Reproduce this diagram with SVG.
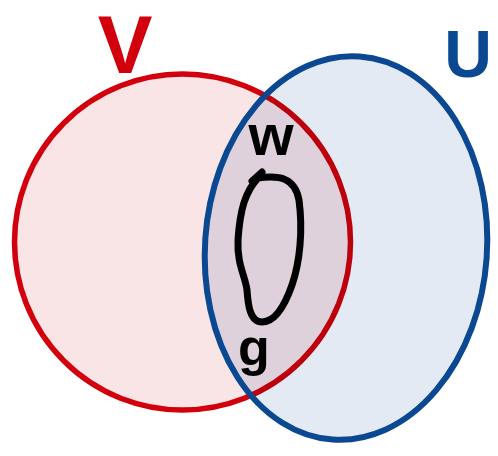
<svg xmlns="http://www.w3.org/2000/svg" width="498" height="456" viewBox="0 0 498 456">
<style>
.hand{font-family:"Liberation Sans","DejaVu Sans",sans-serif;font-weight:bold}
.red{fill:#d2000c}
.blue{fill:#0a4892}
.ink{fill:#000}
</style>
<rect width="498" height="456" fill="#fff"/>
<g id="setV">
<circle cx="182.5" cy="242" r="168" fill="#f9e4e6" stroke="#d2000c" stroke-width="5.5"/>
<text class="hand red" x="125" y="73" font-size="82" text-anchor="middle">V</text>
</g>
<g id="setU">
<ellipse cx="346" cy="248" rx="141" ry="192" transform="rotate(4 346 248)" fill="#e4eaf4" style="mix-blend-mode:multiply"/>
<ellipse cx="346" cy="248" rx="141" ry="192" transform="rotate(4 346 248)" fill="none" stroke="#0a4892" stroke-width="6"/>
<text class="hand blue" x="468" y="77" font-size="66" text-anchor="middle">U</text>
</g>
<g id="loop">
<path d="M258,178 C280,175 295,178 299,200 C303,230 300,262 292,285 C285,305 275,322 262,322 C250,322 248,305 247,290 C245,275 237,265 238,240 C240,210 245,192 258,178 Z M252,181 L262,172" fill="none" stroke="#000" stroke-width="7" stroke-linecap="round" stroke-linejoin="round"/>
<text class="hand ink" x="271" y="155" font-size="58" text-anchor="middle">w</text>
<text class="hand ink" x="254" y="365" font-size="52" text-anchor="middle">g</text>
</g>
</svg>
